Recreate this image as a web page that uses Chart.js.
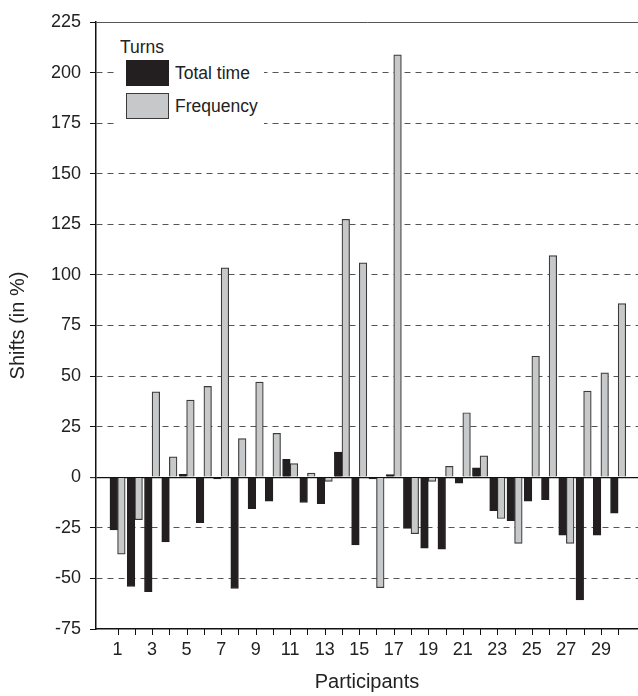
<!DOCTYPE html>
<html>
<head>
<meta charset="utf-8">
<script src="https://cdn.jsdelivr.net/npm/chart.js@4.4.0/dist/chart.umd.min.js"></script>
<style>
  html, body { margin: 0; padding: 0; background: #fff; }
  #wrap { position: relative; width: 638px; height: 696px; }
  #legend { position: absolute; left: 114px; top: 34px; width: 150px; height: 92px; background: #fff;
            font-family: "Liberation Sans", Arial, sans-serif; color: #222; }
  #legend .title { position: absolute; left: 6px; top: 3px; font-size: 17.5px; }
  #legend .item { position: absolute; left: 12px; height: 26px; display: flex; align-items: center; font-size: 17.5px; }
  #legend .box { width: 43px; height: 26px; box-sizing: border-box; border: 1px solid #333; margin-right: 6px; }
</style>
</head>
<body>
<div id="wrap">
  <canvas id="c"></canvas>
  <div id="legend"></div>
</div>
<script>
const participants = [1,2,3,4,5,6,7,8,9,10,11,12,13,14,15,16,17,18,19,20,21,22,23,24,25,26,27,28,29,30];
const totalTime = [-26, -54, -56.5, -32, 1.5, -22.5, -0.8, -55, -15.5, -11.8, 8.8, -12.5, -13, 12.4, -33.5, -0.8, 1.3, -25.3, -35, -35.6, -2.9, 4.7, -16.5, -21.4, -11.8, -11.1, -28.6, -60.6, -28.6, -17.8];
const frequency = [-38, -21, 42.2, 10.1, 38.1, 44.9, 103.5, 19.1, 47, 21.7, 6.7, 2.0, -2.0, 127.5, 106, -54.6, 208.8, -27.9, -2.0, 5.4, 31.9, 10.6, -20.4, -32.7, 59.8, 109.5, -32.7, 42.6, 51.6, 85.8];
const yTicks = [-75, -50, -25, 0, 25, 50, 75, 100, 125, 150, 175, 200, 225];
const seriesNames = ["Total time", "Frequency"];
const legendTitle = "Turns";
const xTitle = "Participants";
const yTitle = "Shifts (in %)";

const FONT = "'Liberation Sans', Arial, sans-serif";
const toPoints = arr => participants.map((p, i) => ({x: p, y: arr[i]}));

// tick marks of the category (x) axis, placed with the scale's own tick pixels
const xTickMarks = {
  id: 'xTickMarks',
  afterDraw(chart) {
    const s = chart.scales.x, ctx = chart.ctx;
    ctx.save();
    ctx.strokeStyle = '#111';
    ctx.lineWidth = 1;
    ctx.beginPath();
    s.ticks.forEach((t, i) => {
      const px = Math.round(s.getPixelForTick(i)) + 0.5;
      ctx.moveTo(px, s.top);
      ctx.lineTo(px, s.top + 6);
    });
    ctx.stroke();
    ctx.restore();
  }
};

const chart = new Chart(document.getElementById('c'), {
  type: 'bar',
  data: {
    datasets: [
      { label: seriesNames[0], data: toPoints(totalTime), backgroundColor: '#231f20', borderColor: '#231f20', borderWidth: 1,
        barThickness: 7.6 },
      { label: seriesNames[1], data: toPoints(frequency), backgroundColor: '#c7c8c9', borderColor: '#3a3a3a', borderWidth: 1.2,
        barThickness: 7.6 }
    ]
  },
  plugins: [xTickMarks],
  options: {
    responsive: true,
    maintainAspectRatio: false,
    animation: false,
    layout: { padding: { top: 22, right: 0, left: 0, bottom: 0 } },
    plugins: { legend: { display: false }, tooltip: { enabled: false } },
    scales: {
      x: {
        type: 'linear',
        offset: false,
        min: -0.25,
        max: 31.15,
        afterBuildTicks: s => { s.ticks = participants.map(v => ({value: v})); },
        afterFit: s => { s.height = 67; },
        ticks: {
          autoSkip: false, maxRotation: 0, padding: 10, color: '#222',
          font: { family: FONT, size: 18 },
          callback: v => (v % 2 === 1 ? String(v) : '')
        },
        grid: { display: true, offset: false, drawOnChartArea: false, drawTicks: false, color: 'rgba(0,0,0,0)' },
        border: { display: true, color: '#111', width: 1.5 },
        title: { display: true, text: xTitle, color: '#222', font: { family: FONT, size: 20 }, padding: { top: 2, bottom: 2 } }
      },
      y: {
        min: -75,
        max: 225,
        afterBuildTicks: s => { s.ticks = yTicks.map(v => ({value: v})); },
        afterFit: s => { s.width = 96; },
        ticks: { color: '#222', padding: 9, font: { family: FONT, size: 18 } },
        grid: {
          drawTicks: true, tickLength: 6, tickColor: '#111', tickWidth: 1,
          color: c => (c.tick && c.tick.value === 0) ? '#111' : (c.tick && c.tick.value === -75 ? 'rgba(0,0,0,0)' : '#555'),
          lineWidth: c => (c.tick && c.tick.value === 0) ? 1.3 : 1
        },
        border: {
          display: true, color: '#111', width: 1.5,
          dash: c => (c.tick && (c.tick.value === 0 || c.tick.value === 225)) ? [] : [6, 5]
        },
        title: { display: true, text: yTitle, color: '#222', font: { family: FONT, size: 20 }, padding: { top: 6, bottom: 4 } }
      }
    }
  }
});

// HTML legend built from chart datasets
const leg = document.getElementById('legend');
const t = document.createElement('div');
t.className = 'title'; t.textContent = legendTitle; leg.appendChild(t);
chart.data.datasets.forEach((ds, i) => {
  const it = document.createElement('div');
  it.className = 'item';
  it.style.top = (26 + i * 33) + 'px';
  const b = document.createElement('div');
  b.className = 'box';
  b.style.background = ds.backgroundColor;
  b.style.borderColor = ds.borderColor;
  const s = document.createElement('span');
  s.textContent = ds.label;
  it.appendChild(b); it.appendChild(s);
  leg.appendChild(it);
});
</script>
</body>
</html>
